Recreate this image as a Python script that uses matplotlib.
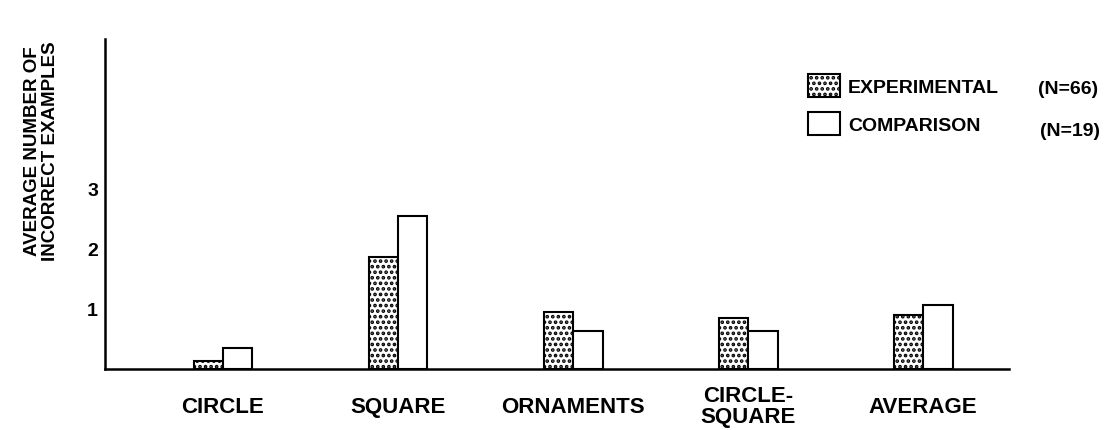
import numpy as np
import matplotlib
matplotlib.use('Agg')
import matplotlib.pyplot as plt
from matplotlib.patches import Patch

categories = ["CIRCLE", "SQUARE", "ORNAMENTS", "CIRCLE-\nSQUARE", "AVERAGE"]
experimental = [0.13, 1.87, 0.95, 0.85, 0.90]
comparison = [0.35, 2.55, 0.63, 0.63, 1.07]
y_ticks = [1, 2, 3]
series_labels = ["EXPERIMENTAL", "COMPARISON"]
series_n = ["(N=66)", "(N=19)"]
ylabel_lines = ["AVERAGE NUMBER OF", "INCORRECT EXAMPLES"]

plt.rcParams['font.family'] = ['Liberation Sans', 'DejaVu Sans']
plt.rcParams['font.weight'] = 'bold'
plt.rcParams['hatch.linewidth'] = 1.8

W, H = 1105, 431
fig = plt.figure(figsize=(W / 100, H / 100), dpi=100)
ax = fig.add_axes([105 / W, 1 - 370 / H, (1009 - 105) / W, (370 - 40) / H])

x = np.arange(len(categories))
w = 0.168
ax.bar(x - w / 2, experimental, w, facecolor='white', edgecolor='black',
       hatch='...', linewidth=1.5)
ax.bar(x + w / 2, comparison, w, facecolor='white', edgecolor='black',
       linewidth=1.5)

ax.set_xlim(-0.674, 4.49)
ax.set_ylim(0, 5.5)
for s in ['top', 'right']:
    ax.spines[s].set_visible(False)
ax.spines['left'].set_linewidth(1.8)
ax.spines['bottom'].set_linewidth(1.8)

ax.set_xticks(x)
ax.set_xticklabels(categories, fontsize=16, fontweight='bold', va='center',
                   multialignment='center')
for t in ax.get_xticklabels():
    t.set_linespacing(1.0)
ax.tick_params(axis='x', length=0, pad=27)
ax.set_yticks(y_ticks)
ax.set_yticklabels([str(v) for v in y_ticks], fontsize=14, fontweight='bold')
ax.tick_params(axis='y', length=0, pad=5)

fig.text(33 / W, 1 - 151 / H, ylabel_lines[0], rotation=90, ha='center',
         va='center', fontsize=13.5, fontweight='bold')
fig.text(51 / W, 1 - 151 / H, ylabel_lines[1], rotation=90, ha='center',
         va='center', fontsize=13.5, fontweight='bold')

handles = [Patch(facecolor='white', edgecolor='black', hatch='...', linewidth=1.5),
           Patch(facecolor='white', edgecolor='black', linewidth=1.5)]
fig.legend(handles, series_labels, loc='upper left',
           bbox_to_anchor=(808 / W, 1 - 75 / H), frameon=False, borderpad=0,
           borderaxespad=0, handlelength=1.65, handleheight=1.44,
           handletextpad=0.4, labelspacing=0.77,
           prop={'size': 14, 'weight': 'bold'})
fig.text(1098 / W, 1 - 90 / H, series_n[0], ha='right', va='center',
         fontsize=14, fontweight='bold')
fig.text(1100 / W, 1 - 132 / H, series_n[1], ha='right', va='center',
         fontsize=14, fontweight='bold')

fig.savefig('out.png', dpi=100)
